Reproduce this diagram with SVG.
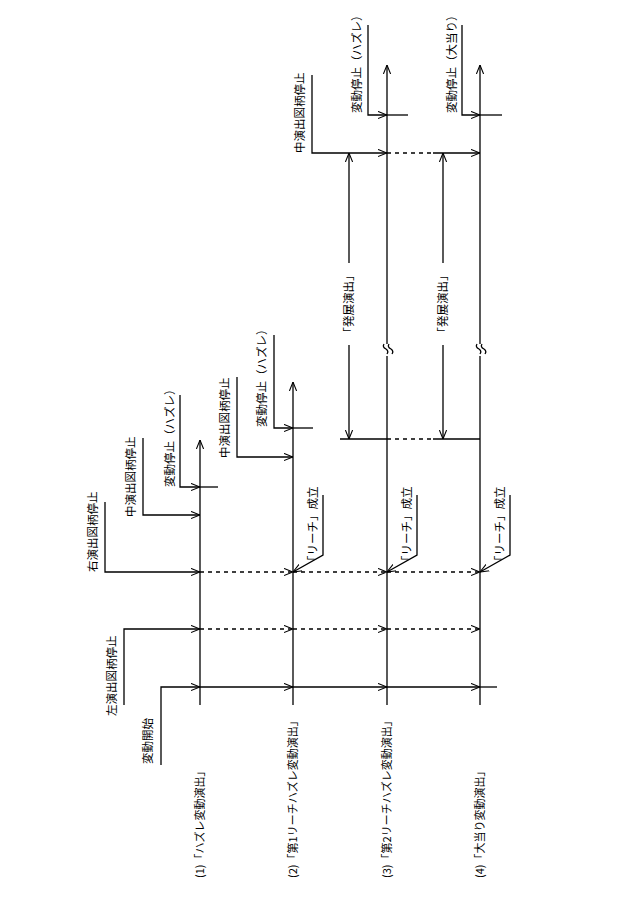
<svg xmlns="http://www.w3.org/2000/svg" width="640" height="900" viewBox="0 0 640 900">
<style>
line,path.l{stroke:#000;stroke-width:1.3;fill:none}
.d{stroke-dasharray:4 4}
text{font-family:"Noto Sans CJK JP","Liberation Sans",sans-serif;font-size:11.5px;fill:#000}
.b{font-size:11px}
</style>
<defs>
<marker id="a" viewBox="0 0 10 10" refX="10" refY="5" markerWidth="9" markerHeight="9" markerUnits="userSpaceOnUse" orient="auto">
<path d="M0,1 L10,5 L0,9" fill="none" stroke="#000" stroke-width="1.2"/>
</marker>
</defs>
<rect width="640" height="900" fill="#fff"/>
<g id="axes">
<line x1="200" y1="705" x2="200" y2="440" marker-end="url(#a)"/>
<line x1="293" y1="705" x2="293" y2="382" marker-end="url(#a)"/>
<line x1="387" y1="705" x2="387" y2="65" marker-end="url(#a)"/>
<line x1="480" y1="705" x2="480" y2="65" marker-end="url(#a)"/>
<rect x="380" y="344" width="14" height="12" fill="#fff"/>
<rect x="473" y="344" width="14" height="12" fill="#fff"/>
<path class="l" d="M384,344 q-2,3 2,5 q3,2 1,5 M389,344 q-2,3 2,5 q3,2 1,5"/>
<path class="l" d="M477,344 q-2,3 2,5 q3,2 1,5 M482,344 q-2,3 2,5 q3,2 1,5"/>
</g>
<g id="connectors">
<path class="l" d="M161,765 V687 H200" marker-end="url(#a)"/>
<line x1="200" y1="687" x2="293" y2="687" marker-end="url(#a)"/>
<line x1="293" y1="687" x2="387" y2="687" marker-end="url(#a)"/>
<line x1="387" y1="687" x2="480" y2="687" marker-end="url(#a)"/>
<line x1="480" y1="687" x2="497" y2="687"/>
<path class="l" d="M124,705 V629 H200" marker-end="url(#a)"/>
<line class="d" x1="200" y1="629" x2="293" y2="629" marker-end="url(#a)"/>
<line class="d" x1="293" y1="629" x2="387" y2="629" marker-end="url(#a)"/>
<line class="d" x1="387" y1="629" x2="480" y2="629" marker-end="url(#a)"/>
<path class="l" d="M105,502 V572 H200" marker-end="url(#a)"/>
<line class="d" x1="200" y1="572" x2="293" y2="572" marker-end="url(#a)"/>
<line class="d" x1="293" y1="572" x2="387" y2="572" marker-end="url(#a)"/>
<line class="d" x1="387" y1="572" x2="480" y2="572" marker-end="url(#a)"/>
<path class="l" d="M143,438 V515 H200" marker-end="url(#a)"/>
<path class="l" d="M180,395 V487 H200" marker-end="url(#a)"/>
<line x1="200" y1="487" x2="218" y2="487"/>
<path class="l" d="M237,377 V457 H293" marker-end="url(#a)"/>
<path class="l" d="M274,335 V428 H293" marker-end="url(#a)"/>
<line x1="293" y1="428" x2="313" y2="428"/>
<path class="l" d="M312,75 V153 H387" marker-end="url(#a)"/>
<line class="d" x1="387" y1="153" x2="433" y2="153"/>
<line x1="433" y1="153" x2="480" y2="153" marker-end="url(#a)"/>
<path class="l" d="M368,25 V115 H387" marker-end="url(#a)"/>
<line x1="387" y1="115" x2="408" y2="115"/>
<path class="l" d="M462,25 V115 H480" marker-end="url(#a)"/>
<line x1="480" y1="115" x2="502" y2="115"/>
<line x1="340" y1="439" x2="387" y2="439"/>
<line class="d" x1="387" y1="439" x2="433" y2="439"/>
<line x1="433" y1="439" x2="480" y2="439"/>
<line x1="349" y1="263" x2="349" y2="153" marker-end="url(#a)"/>
<line x1="349" y1="345" x2="349" y2="439" marker-end="url(#a)"/>
<line x1="443" y1="263" x2="443" y2="153" marker-end="url(#a)"/>
<line x1="443" y1="345" x2="443" y2="439" marker-end="url(#a)"/>
<path class="l" d="M323,495 V555 L293,572" marker-end="url(#a)"/>
<path class="l" d="M417,495 V555 L387,572" marker-end="url(#a)"/>
<path class="l" d="M510,495 V555 L480,572" marker-end="url(#a)"/>
</g>
<g id="labels">
<text transform="translate(152,764) rotate(-90)">変動開始</text>
<text transform="translate(116,716) rotate(-90)">左演出図柄停止</text>
<text transform="translate(97,572) rotate(-90)">右演出図柄停止</text>
<text transform="translate(135,517) rotate(-90)">中演出図柄停止</text>
<text transform="translate(174,487) rotate(-90)">変動停止（ハズレ）</text>
<text transform="translate(229,458) rotate(-90)">中演出図柄停止</text>
<text transform="translate(266,427) rotate(-90)">変動停止（ハズレ）</text>
<text transform="translate(304,153) rotate(-90)">中演出図柄停止</text>
<text transform="translate(361,113) rotate(-90)">変動停止（ハズレ）</text>
<text transform="translate(456,113) rotate(-90)">変動停止（大当り）</text>
<text transform="translate(353,304) rotate(-90)" text-anchor="middle">「発展演出」</text>
<text transform="translate(447,304) rotate(-90)" text-anchor="middle">「発展演出」</text>
<text transform="translate(317,567) rotate(-90)">「リーチ」成立</text>
<text transform="translate(411,567) rotate(-90)">「リーチ」成立</text>
<text transform="translate(504,567) rotate(-90)">「リーチ」成立</text>
<text class="b" transform="translate(204,878) rotate(-90)">(1)「ハズレ変動演出」</text>
<text class="b" transform="translate(297,878) rotate(-90)">(2)「第1リーチハズレ変動演出」</text>
<text class="b" transform="translate(391,878) rotate(-90)">(3)「第2リーチハズレ変動演出」</text>
<text class="b" transform="translate(484,878) rotate(-90)">(4)「大当り変動演出」</text>
</g>
</svg>
